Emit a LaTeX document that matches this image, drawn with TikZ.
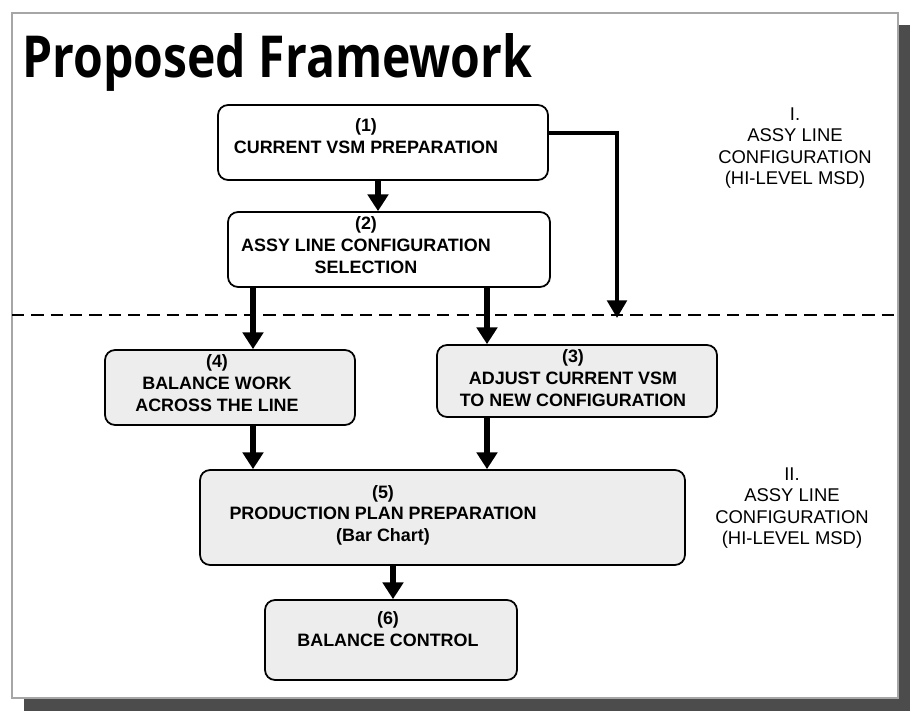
\documentclass[tikz,border=0pt]{standalone}
\usepackage{fontspec}
\setmainfont{Liberation Sans}
\newfontfamily\titlefont{Open Sans}
\usetikzlibrary{arrows.meta, positioning}

\begin{document}
\begin{tikzpicture}[x=0.02cm, y=-0.02cm,
    box/.style={draw, line width=1pt, rounded corners=0.2cm, fill=white},
    greybox/.style={box, fill=gray!14},
    txt/.style={align=center, font=\fontsize{10.2}{12.3}\selectfont\bfseries, inner sep=0pt},
    side/.style={align=center, font=\fontsize{10.5}{12.2}\selectfont, inner sep=0pt},
    arr/.style={line width=3pt, -{Triangle[length=9.5pt, width=11.5pt]}},
    thinarr/.style={line width=2.3pt, -{Triangle[length=10pt, width=11pt]}}]
  \useasboundingbox (0,0) rectangle (910,713);
  % slide frame with shadow
  \fill[black!70] (24,25) rectangle (910,711);
  \draw[gray!70, line width=0.6pt, fill=white] (12,13) rectangle (898,698);
  \node[anchor=base west, inner sep=0pt] (title) at (22,78)
    {\resizebox{10.2cm}{0.88cm}{\titlefont\bfseries Proposed Framework}};

  % Phase I
  \node[box, minimum width=6.6cm, minimum height=1.5cm] (vsm) at (383,142.5) {};
  \node[txt] (vsmtxt) at (366,136) {(1)\\CURRENT VSM PREPARATION};
  \node[box, minimum width=6.44cm, minimum height=1.5cm] (select) at (389,249.5) {};
  \node[txt] (selecttxt) at (366,245) {(2)\\ASSY LINE CONFIGURATION\\SELECTION};
  \node[side] (phaseI) at (795,148) {I.\\ASSY LINE\\CONFIGURATION\\(HI-LEVEL MSD)};

  % phase border
  \coordinate (dashL) at (12,315);
  \coordinate (dashR) at (898,315);
  \draw[line width=1.1pt, dash pattern=on 7pt off 4pt] (dashL) -- (dashR);

  % Phase II
  \node[greybox, minimum width=5cm, minimum height=1.5cm] (balance) at (230,387.5) {};
  \node[txt] (balancetxt) at (217,383) {(4)\\BALANCE WORK\\ACROSS THE LINE};
  \node[greybox, minimum width=5.6cm, minimum height=1.44cm] (adjust) at (577,381) {};
  \node[txt] (adjusttxt) at (573,378) {(3)\\ADJUST CURRENT VSM\\TO NEW CONFIGURATION};
  \node[greybox, minimum width=9.7cm, minimum height=1.9cm] (plan) at (442.5,517.5) {};
  \node[txt] (plantxt) at (383,515) {(5)\\PRODUCTION PLAN PREPARATION\\(Bar Chart)};
  \node[greybox, minimum width=5.04cm, minimum height=1.6cm] (control) at (391,640) {};
  \node[txt] (controltxt) at (388,629) {(6)\\BALANCE CONTROL};
  \node[side] (phaseII) at (792,508) {II.\\ASSY LINE\\CONFIGURATION\\(HI-LEVEL MSD)};

  % connectors
  \coordinate (colA) at (253,0);
  \coordinate (colB) at (487,0);
  \coordinate (turn) at (617,133);
  \coordinate (tipI) at (617,318);
  \draw[arr] (vsm.south -| 378,0) -- (select.north -| 378,0);
  \draw[thinarr] (vsm.east |- turn) -- (turn) -- (tipI);
  \draw[arr] (select.south -| colA) -- (balance.north -| colA);
  \draw[arr] (select.south -| colB) -- (adjust.north -| colB);
  \draw[arr] (balance.south -| colA) -- (plan.north -| colA);
  \draw[arr] (adjust.south -| colB) -- (plan.north -| colB);
  \draw[arr] (plan.south -| 393,0) -- (control.north -| 393,0);
\end{tikzpicture}
\end{document}
